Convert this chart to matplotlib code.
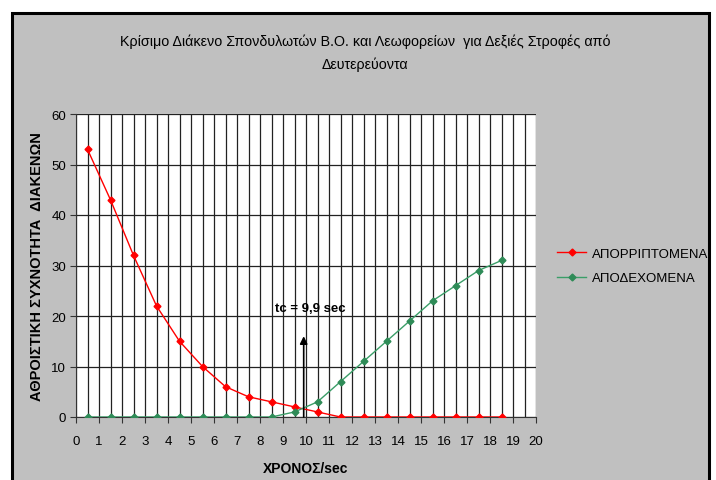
import matplotlib
matplotlib.use("Agg")
import matplotlib.pyplot as plt
from matplotlib.patches import Rectangle
import numpy as np

plt.rcParams["font.family"] = ["Liberation Sans", "DejaVu Sans"]

# χρόνος (sec) στο μέσο κάθε κλάσης διακένου
time_s = [0.5, 1.5, 2.5, 3.5, 4.5, 5.5, 6.5, 7.5, 8.5, 9.5,
          10.5, 11.5, 12.5, 13.5, 14.5, 15.5, 16.5, 17.5, 18.5]
rejected = [53, 43, 32, 22, 15, 10, 6, 4, 3, 2, 1, 0, 0, 0, 0, 0, 0, 0, 0]
accepted = [0, 0, 0, 0, 0, 0, 0, 0, 0, 1, 3, 7, 11, 15, 19, 23, 26, 29, 31]
tc = 9.9

W, H = 716, 481
fig = plt.figure(figsize=(W / 100, H / 100), dpi=100, facecolor="white")

# γκρι πλαίσιο γραφήματος (πίσω από τους άξονες)
fig.patches.append(Rectangle((12 / W, -0.02), (709 - 12) / W, (481 - 14) / H + 0.02,
                             transform=fig.transFigure, facecolor="#C0C0C0",
                             edgecolor="black", linewidth=2.2, zorder=-10))

ax = fig.add_axes([76 / W, (H - 418) / H, (536 - 76) / W, (418 - 115) / H])
ax.set_zorder(1)
ax.set_facecolor("white")
ax.set_xlim(0, 20)
ax.set_ylim(0, 60)

ax.set_xticks(np.arange(0, 21, 1))
ax.set_yticks(np.arange(0, 61, 10))
ax.set_xticks(np.arange(0, 20.01, 0.5), minor=True)
ax.tick_params(axis="both", labelsize=9.5, length=4, width=0.8, color="#333333",
               direction="out")
ax.tick_params(axis="y", pad=3)
ax.tick_params(axis="x", pad=9)
ax.tick_params(axis="x", which="minor", length=0)
ax.grid(True, axis="x", which="both", color="#222222", linewidth=0.9)
ax.grid(True, axis="y", which="major", color="#222222", linewidth=0.9)
ax.set_axisbelow(True)
for side in ("top", "right"):
    ax.spines[side].set_visible(False)
ax.spines["left"].set_color("#333333")
ax.spines["bottom"].set_color("#333333")

ax.plot(time_s, rejected, color="#FF0000", lw=1.0, marker="D", ms=3.5,
        mec="#FF0000", mfc="#FF0000", label="ΑΠΟΡΡΙΠΤΟΜΕΝΑ", zorder=3)
ax.plot(time_s, accepted, color="#3A9E68", lw=1.0, marker="D", ms=3.5,
        mec="#2E8B57", mfc="#2E8B57", label="ΑΠΟΔΕΧΟΜΕΝΑ", zorder=3)

ax.annotate("", xy=(tc, 16), xytext=(tc, 0),
            arrowprops=dict(arrowstyle="-|>", color="black", lw=1.2,
                            mutation_scale=11, shrinkA=0, shrinkB=0), zorder=4)
ax.text(10.2, 21.5, "tc = 9,9 sec", fontsize=9.5, fontweight="bold",
        ha="center", va="center", zorder=5)

ax.set_xlabel("ΧΡΟΝΟΣ/sec", fontsize=10, fontweight="bold", labelpad=10)
ax.set_ylabel("ΑΘΡΟΙΣΤΙΚΗ ΣΥΧΝΟΤΗΤΑ  ΔΙΑΚΕΝΩΝ", fontsize=10.5, fontweight="bold",
              labelpad=5)

fig.text(365 / W, 1 - 42 / H,
         "Κρίσιμο Διάκενο Σπονδυλωτών Β.Ο. και Λεωφορείων  για Δεξιές Στροφές από",
         ha="center", va="center", fontsize=10.3)
fig.text(365 / W, 1 - 65 / H, "Δευτερεύοντα", ha="center", va="center", fontsize=10.3)

leg = fig.legend(loc="center left", bbox_to_anchor=(552 / W, 1 - 267 / H),
                 frameon=False, fontsize=9.5, handlelength=2.2, handletextpad=0.4,
                 labelspacing=0.9, borderaxespad=0)

fig.savefig("out.png", dpi=100, facecolor=fig.get_facecolor())
